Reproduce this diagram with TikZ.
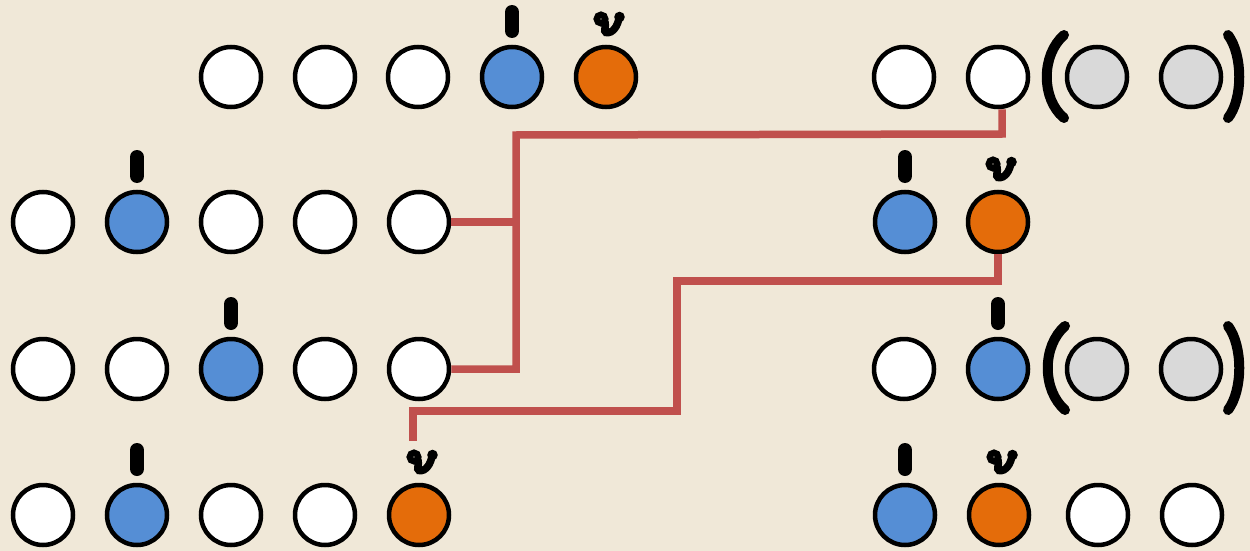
\documentclass[tikz,border=0pt]{standalone}
\usetikzlibrary{calc}

\definecolor{paper}{RGB}{240,232,216}
\definecolor{dotblue}{RGB}{85,142,213}
\definecolor{dotorange}{RGB}{228,108,10}
\definecolor{dotgray}{RGB}{217,217,217}
\definecolor{linkred}{RGB}{192,80,77}

\begin{document}
\begin{tikzpicture}[x=1pt, y=-1pt,
    dot/.style={circle, draw=black, line width=4.5pt, minimum size=60pt, inner sep=0pt, fill=white},
    blue dot/.style={dot, fill=dotblue},
    orange dot/.style={dot, fill=dotorange},
    gray dot/.style={dot, fill=dotgray},
    link/.style={draw=linkred, line width=7.5pt},
    paren/.style={line width=10pt, line cap=round},
    stick/.pic={\draw[line width=14pt, line cap=round] (0,-65) -- (0,-46);},
    vmark/.pic={
        \draw[line width=6.5pt] (-5,-58) circle (4.2);
        \draw[line width=7.5pt, line cap=round] (-1,-55) .. controls (0.5,-50) and (-3,-46) .. (0,-44.5)
            .. controls (7,-43) and (12,-52) .. (13,-59);
        \fill (13.5,-60) circle (5.3);
    }]
    % 1. Canvas
    \useasboundingbox (0,0) rectangle (1250,551);
    \fill[paper] (0,0) rectangle (1250,551);

    % 2. First row
    \node[dot] (a1) at (231,77) {};
    \node[dot] (a2) at (325,77) {};
    \node[dot] (a3) at (418,77) {};
    \node[blue dot] (a4) at (512,77) {};
    \node[orange dot] (a5) at (606,77) {};
    \node[dot] (a6) at (904,77) {};
    \node[dot] (a7) at (998,77) {};
    \node[gray dot] (a8) at (1097,77) {};
    \node[gray dot] (a9) at (1191,77) {};

    % 3. Second row
    \node[dot] (b1) at (43,222) {};
    \node[blue dot] (b2) at (137,222) {};
    \node[dot] (b3) at (231,222) {};
    \node[dot] (b4) at (325,222) {};
    \node[dot] (b5) at (419,222) {};
    \node[blue dot] (b6) at (905,222) {};
    \node[orange dot] (b7) at (998,222) {};

    % 4. Third row
    \node[dot] (c1) at (43,369) {};
    \node[dot] (c2) at (137,369) {};
    \node[blue dot] (c3) at (231,369) {};
    \node[dot] (c4) at (325,369) {};
    \node[dot] (c5) at (419,369) {};
    \node[dot] (c6) at (904,369) {};
    \node[blue dot] (c7) at (998,369) {};
    \node[gray dot] (c8) at (1097,369) {};
    \node[gray dot] (c9) at (1191,369) {};

    % 5. Fourth row
    \node[dot] (d1) at (43,515) {};
    \node[blue dot] (d2) at (137,515) {};
    \node[dot] (d3) at (231,515) {};
    \node[dot] (d4) at (325,515) {};
    \node[orange dot] (d5) at (419,515) {};
    \node[blue dot] (d6) at (905,515) {};
    \node[orange dot] (d7) at (999,515) {};
    \node[dot] (d8) at (1098,515) {};
    \node[dot] (d9) at (1192,515) {};

    % 6. Marks above the coloured dots
    \pic at (a4) {stick};
    \pic at (b2) {stick};
    \pic at (b6) {stick};
    \pic at (c3) {stick};
    \pic at (c7) {stick};
    \pic at (d2) {stick};
    \pic at (d6) {stick};
    \pic at (a5) {vmark};
    \pic at (b7) {vmark};
    \pic at (d5) {vmark};
    \pic at (d7) {vmark};

    % 7. Brackets round the gray pairs
    \draw[paren] (1064,35) .. controls (1041,55) and (1041,99) .. (1064,118);
    \draw[paren] (1228,35) .. controls (1243,55) and (1243,99) .. (1228,118);
    \draw[paren] (1065,326) .. controls (1042,346) and (1042,390) .. (1065,410);
    \draw[paren] (1228,326) .. controls (1243,346) and (1243,390) .. (1228,410);

    % 8. Red links
    \coordinate (jA) at (516,135);
    \coordinate (jB) at (1002,134);
    \coordinate (kA) at (677,281);
    \coordinate (kB) at (413,411);
    \coordinate (kC) at (413,441);

    \draw[link] (c5.east) -| (jA) -- (jB) -- (jB |- a7.south);
    \draw[link] (b5.east) -- (b5.east -| jA);
    \draw[link] (b7.south) |- (kA) |- (kB) -- (kC);

\end{tikzpicture}
\end{document}
